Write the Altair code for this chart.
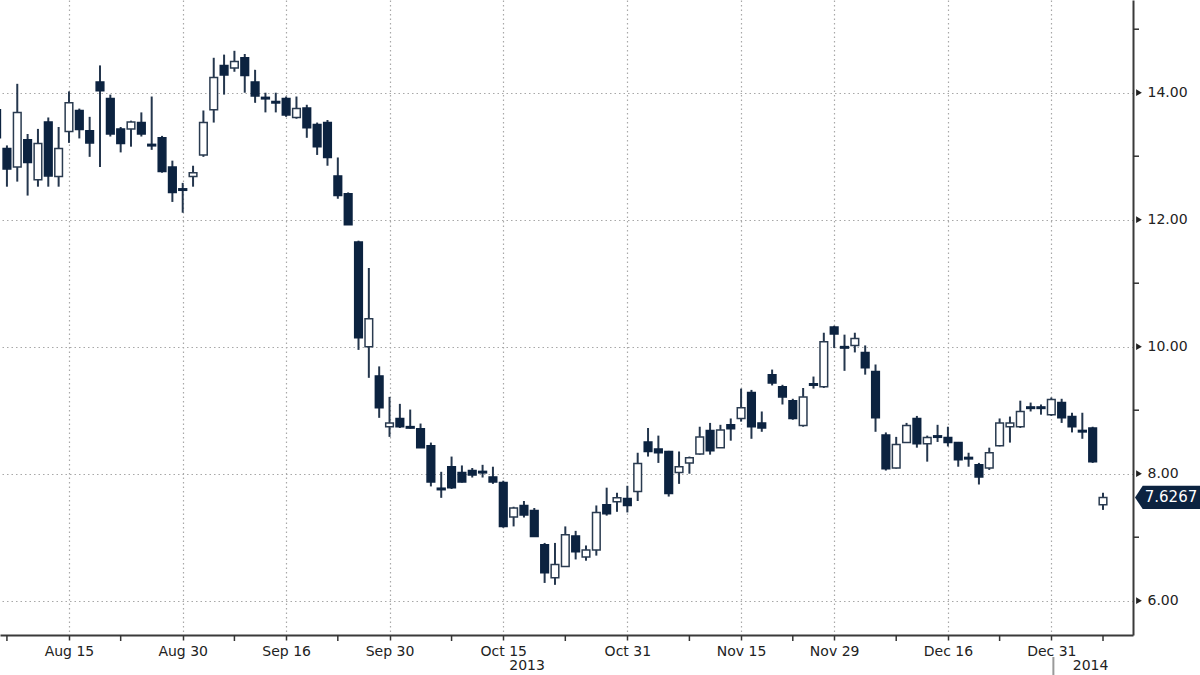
import altair as alt
import pandas as pd

# trading-day index (0 = Aug 15 2013)
day_index = list(range(-7, 101))
opens = [13.73, 13.12, 12.83, 13.26, 12.63, 13.54, 12.68,
         13.39, 13.72, 13.40, 14.17, 13.91, 13.43, 13.43, 13.53, 13.20, 13.29,
         12.83, 12.49, 12.68, 13.02, 13.73, 14.43, 14.39, 14.55, 14.17, 13.92,
         13.86, 13.91, 13.61, 13.76, 13.50, 13.53, 12.69, 12.41, 11.65, 10.00,
         9.54, 8.74, 8.87, 8.74, 8.71, 8.44, 7.78, 8.11, 8.02, 8.05,
         8.03, 7.95, 7.86, 7.32, 7.50, 7.42, 6.88, 6.36, 6.54, 7.02,
         6.69, 6.80, 7.51, 7.56, 7.61, 7.72, 8.50, 8.39, 8.35, 8.02,
         8.17, 8.31, 8.68, 8.41, 8.77, 8.87, 9.28, 8.80, 9.56, 9.37,
         9.15, 8.76, 9.42, 9.37, 10.31, 10.00, 10.02, 9.91, 9.61, 8.61,
         8.09, 8.49, 8.87, 8.47, 8.60, 8.57, 8.49, 8.22, 8.14, 8.09,
         8.44, 8.74, 8.74, 9.06, 9.06, 8.93, 9.12, 8.90, 8.68, 8.72, 7.51]
highs = [13.80, 13.17, 14.14, 13.35, 13.43, 13.61, 13.46,
         14.02, 13.75, 13.62, 14.43, 13.97, 13.46, 13.56, 13.69, 13.94, 13.32,
         12.93, 12.58, 12.85, 13.72, 14.55, 14.60, 14.66, 14.61, 14.36, 14.00,
         14.00, 13.94, 13.94, 13.81, 13.53, 13.57, 12.98, 12.43, 11.67, 11.24,
         9.69, 9.21, 9.10, 9.01, 8.79, 8.49, 8.03, 8.27, 8.13, 8.09,
         8.14, 8.11, 7.89, 7.48, 7.57, 7.46, 6.91, 6.91, 7.17, 7.10,
         6.87, 7.50, 7.78, 7.70, 7.81, 8.33, 8.72, 8.60, 8.36, 8.35,
         8.27, 8.74, 8.80, 8.77, 8.87, 9.34, 9.32, 8.98, 9.64, 9.40,
         9.18, 9.35, 9.53, 10.22, 10.33, 10.19, 10.22, 10.02, 9.72, 8.65,
         8.58, 8.80, 8.91, 8.60, 8.77, 8.74, 8.50, 8.33, 8.17, 8.41,
         8.87, 8.90, 9.15, 9.12, 9.09, 9.20, 9.18, 8.96, 8.96, 8.74, 7.70]
lows = [13.20, 12.52, 12.60, 12.38, 12.52, 12.52, 12.52,
        13.21, 13.28, 12.99, 12.83, 13.31, 13.06, 13.15, 13.31, 13.10, 12.74,
        12.28, 12.11, 12.52, 12.99, 13.53, 13.97, 14.33, 14.00, 13.84, 13.69,
        13.69, 13.62, 13.59, 13.29, 13.02, 12.85, 12.33, 11.92, 9.95, 9.51,
        8.88, 8.58, 8.72, 8.71, 8.41, 7.80, 7.62, 7.76, 7.86, 7.94,
        7.94, 7.84, 7.15, 7.17, 7.31, 7.01, 6.28, 6.25, 6.54, 6.65,
        6.63, 6.71, 7.34, 7.40, 7.39, 7.57, 8.27, 8.17, 7.64, 7.84,
        8.00, 8.30, 8.30, 8.41, 8.52, 8.82, 8.55, 8.66, 9.39, 9.09,
        8.85, 8.74, 9.34, 9.35, 9.98, 9.62, 9.91, 9.56, 8.66, 8.05,
        8.08, 8.49, 8.41, 8.19, 8.50, 8.43, 8.11, 8.11, 7.83, 8.06,
        8.43, 8.49, 8.72, 8.98, 8.93, 8.91, 8.80, 8.65, 8.55, 8.17, 7.43]
closes = [13.29, 12.80, 13.69, 12.90, 13.20, 12.69, 13.12,
          13.84, 13.42, 13.21, 14.03, 13.35, 13.20, 13.54, 13.35, 13.15, 12.76,
          12.43, 12.46, 12.74, 13.53, 14.24, 14.28, 14.49, 14.27, 13.95, 13.91,
          13.84, 13.65, 13.75, 13.45, 13.15, 12.98, 12.38, 11.92, 10.14, 10.44,
          9.04, 8.80, 8.74, 8.72, 8.41, 7.87, 7.74, 7.78, 7.87, 7.98,
          8.02, 7.87, 7.17, 7.46, 7.35, 7.01, 6.44, 6.57, 7.04, 6.77,
          6.80, 7.39, 7.37, 7.62, 7.50, 8.16, 8.35, 8.33, 7.69, 8.11,
          8.25, 8.58, 8.36, 8.69, 8.71, 9.04, 8.74, 8.72, 9.43, 9.21,
          8.87, 9.21, 9.39, 10.08, 10.20, 9.98, 10.13, 9.67, 8.88, 8.08,
          8.46, 8.76, 8.47, 8.57, 8.57, 8.49, 8.22, 8.27, 7.95, 8.33,
          8.80, 8.80, 8.98, 9.02, 9.02, 9.17, 8.88, 8.74, 8.66, 8.19, 7.6267]

tick_days = [0, 11, 21, 31, 42, 54, 65, 74, 85, 95]
tick_labels = ["Aug 15", "Aug 30", "Sep 16", "Sep 30", "Oct 15",
               "Oct 31", "Nov 15", "Nov 29", "Dec 16", "Dec 31"]
minor_x_days = [-6, 5, 16, 26, 37, 48, 60, 70, 80, 90, 100]
major_y_values = [6, 8, 10, 12, 14]
minor_y_values = [7, 9, 11, 13, 15]
year_labels = ["2013", "2014"]
year_label_days = [44.3, 98.8]
year_divider_day = [95.2]
last_price = [7.6267]

FONT = "DejaVu Sans"
NAVY = "#0c2340"
WICK = "#24364d"

df = pd.DataFrame({"d": day_index, "o": opens, "h": highs, "l": lows, "c": closes})

xs = alt.Scale(domain=[-6.67, 102.9], nice=False, zero=False)
ys = alt.Scale(domain=[5.46, 15.46], nice=False, zero=False)

label_expr = ""
for d, lab in zip(tick_days, tick_labels):
    label_expr += f"datum.value == {d} ? '{lab}' : "
label_expr += "''"

x_axis = alt.Axis(values=tick_days, labelExpr=label_expr, grid=True, gridDash=[1.5, 3],
                  gridColor="#a8a8a8", gridWidth=1.2, tickSize=5, tickColor="#333",
                  tickWidth=1.5, domainColor="#3a3a3a", domainWidth=2, labelFont=FONT,
                  labelFontSize=14, labelColor="#222", labelPadding=4, title=None,
                  labelFlush=False, labelOverlap=False)
y_axis = alt.Axis(values=major_y_values, format=".2f", orient="right", grid=True,
                  gridDash=[1.5, 3], gridColor="#a8a8a8", gridWidth=1.2, ticks=False,
                  domainColor="#3a3a3a", domainWidth=2, labelFont=FONT, labelFontSize=14,
                  labelColor="#222", labelPadding=14, title=None, labelOverlap=False)

base = alt.Chart(df)

wicks = base.mark_rule(color=WICK, strokeWidth=2).encode(
    x=alt.X("d:Q", scale=xs, axis=x_axis),
    y=alt.Y("l:Q", scale=ys, axis=y_axis),
    y2="h:Q",
)

bodies = base.transform_calculate(
    x0="datum.d - 0.37", x1="datum.d + 0.37",
    up="datum.c >= datum.o ? 'up' : 'down'"
).transform_filter("abs(datum.c - datum.o) >= 0.05").mark_rect(strokeWidth=1.5).encode(
    x=alt.X("x0:Q", scale=xs),
    x2="x1:Q",
    y=alt.Y("o:Q", scale=ys),
    y2="c:Q",
    fill=alt.Fill("up:N", scale=alt.Scale(domain=["up", "down"], range=["#ffffff", NAVY]), legend=None),
    stroke=alt.Stroke("up:N", scale=alt.Scale(domain=["up", "down"], range=["#2a3b50", NAVY]), legend=None),
)

dashes = base.transform_calculate(
    x0="datum.d - 0.45", x1="datum.d + 0.45", m="(datum.o + datum.c) / 2"
).transform_filter("abs(datum.c - datum.o) < 0.05").mark_rule(color=NAVY, strokeWidth=3).encode(
    x=alt.X("x0:Q", scale=xs), x2="x1:Q", y=alt.Y("m:Q", scale=ys)
)

minor_x = alt.Chart(pd.DataFrame({"d": minor_x_days})).mark_rule(color="#333", strokeWidth=1.5).encode(
    x=alt.X("d:Q", scale=xs), y=alt.value(635), y2=alt.value(641)
)
minor_y = alt.Chart(pd.DataFrame({"v": minor_y_values})).mark_rule(color="#333", strokeWidth=1.5).encode(
    y=alt.Y("v:Q", scale=ys), x=alt.value(1133), x2=alt.value(1139)
)
major_y = alt.Chart(pd.DataFrame({"v": major_y_values})).mark_point(
    shape="triangle-right", filled=True, color="#222", size=45, opacity=1
).encode(y=alt.Y("v:Q", scale=ys), x=alt.value(1139))

years = alt.Chart(pd.DataFrame({"d": year_label_days, "t": year_labels})).mark_text(
    font=FONT, fontSize=14, color="#222", baseline="top", align="center"
).encode(x=alt.X("d:Q", scale=xs), y=alt.value(659), text="t:N")
divider = alt.Chart(pd.DataFrame({"d": year_divider_day})).mark_rule(color="#9a9a9a", strokeWidth=2).encode(
    x=alt.X("d:Q", scale=xs), y=alt.value(657), y2=alt.value(675)
)

box_path = "M-1,0L-0.78,-0.33L1,-0.33L1,0.33L-0.78,0.33Z"
callout_box = alt.Chart(pd.DataFrame({"p": last_price})).mark_point(
    shape=box_path, filled=True, color=NAVY, size=4900, opacity=1
).encode(y=alt.Y("p:Q", scale=ys), x=alt.value(1170))
callout_text = alt.Chart(pd.DataFrame({"p": last_price})).transform_calculate(
    t="format(datum.p, '.4f')"
).mark_text(font=FONT, fontSize=15, color="#ffffff", align="center", baseline="middle").encode(
    y=alt.Y("p:Q", scale=ys), x=alt.value(1171), text="t:N"
)

chart = alt.layer(
    wicks, bodies, dashes, minor_x, minor_y, major_y, divider, years, callout_box, callout_text
).properties(
    width=1133, height=635,
    autosize=alt.AutoSizeParams(type="none"),
    padding={"left": 0, "top": 0, "right": 67, "bottom": 40},
    background="#ffffff",
).configure_view(stroke=None)

chart.save("out.html", embed_options={"renderer": "svg", "actions": False})
